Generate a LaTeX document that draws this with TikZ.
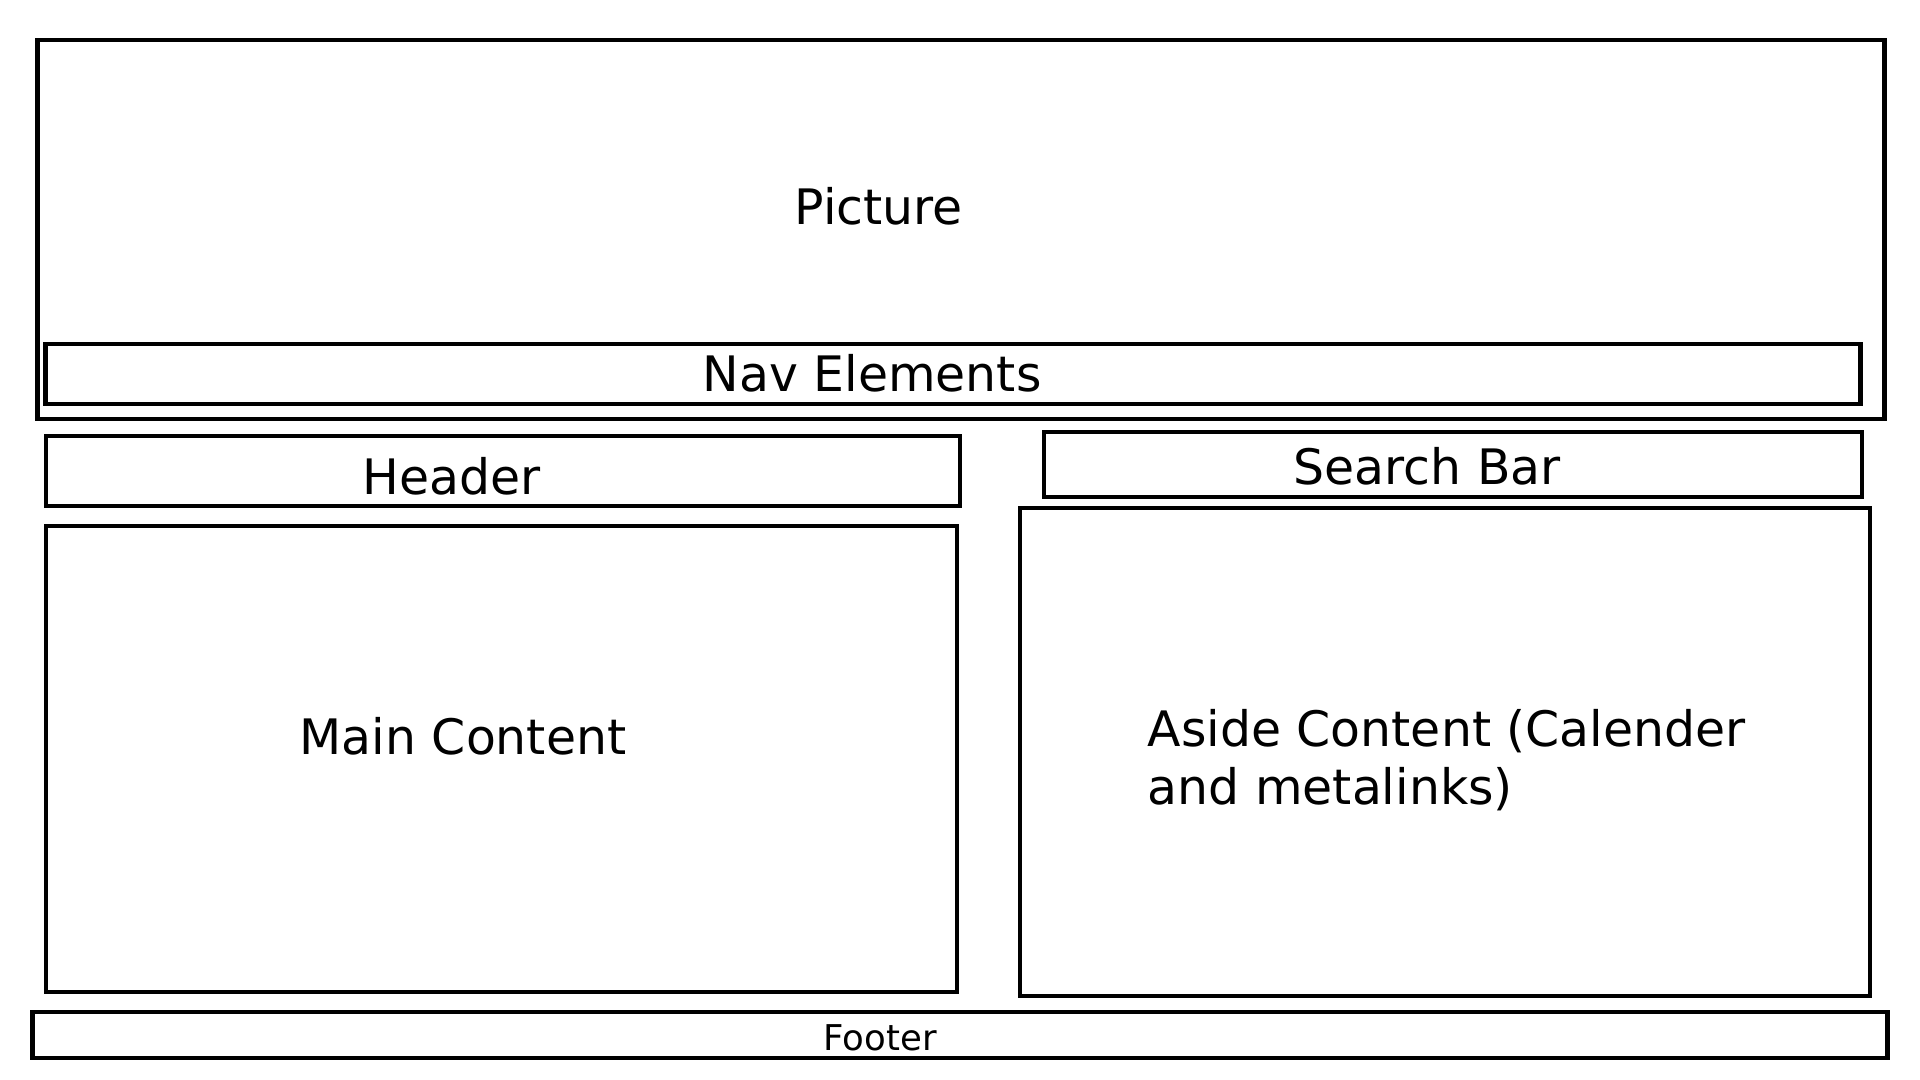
\documentclass[tikz,border=0pt]{standalone}
\usepackage{fontspec}
\setmainfont{DejaVu Sans}

\begin{document}
\begin{tikzpicture}
[x=0.01cm,y=-0.01cm,
box/.style={rectangle,draw,line width=1.2pt,inner sep=0pt},
lbl/.style={anchor=base west,inner sep=0pt,font=\fontsize{13.9}{16.6}\selectfont},
small/.style={anchor=base west,inner sep=0pt,font=\fontsize{10.1}{12}\selectfont}]
\useasboundingbox (0,0) rectangle (1920,1080);
\node[box,minimum width=18.46cm,minimum height=3.79cm] (picture) at (961,229.5) {};
\node[box,minimum width=18.14cm,minimum height=0.60cm] (nav) at (953,374) {};
\node[box,minimum width=9.14cm,minimum height=0.70cm] (header) at (503,471) {};
\node[box,minimum width=8.18cm,minimum height=0.65cm] (search) at (1453,464.5) {};
\node[box,minimum width=9.11cm,minimum height=4.66cm] (main) at (501.5,759) {};
\node[box,minimum width=8.50cm,minimum height=4.88cm] (aside) at (1445,752) {};
\node[box,minimum width=18.54cm,minimum height=0.46cm] (footer) at (960,1035) {};
\node[lbl] (picturetext) at (794,225) {Picture};
\node[lbl] (navtext) at (702,392) {Nav Elements};
\node[lbl] (headertext) at (362,495) {Header};
\node[lbl] (searchtext) at (1293,485) {Search Bar};
\node[lbl] (maintext) at (299,755) {Main Content};
\node[lbl,align=left] (asidetext) at (1147,805) {Aside Content (Calender\\and metalinks)};
\node[small] (footertext) at (823,1050.5) {Footer};
\end{tikzpicture}
\end{document}
